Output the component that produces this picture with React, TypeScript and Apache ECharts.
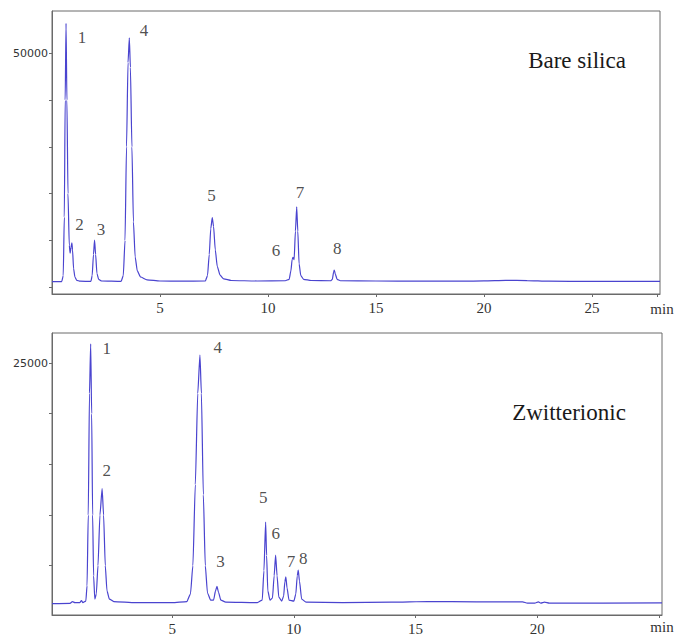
import React, { useEffect, useRef } from "react";
import * as echarts from "echarts";

// ---- Data (time in min, detector response) ----
const TOP_TRACE: [number, number][] = [
  [0, 1200], [0.45, 1200], [0.52, 2500], [0.57, 15000], [0.61, 40000], [0.65, 56400],
  [0.69, 40000], [0.74, 20000], [0.8, 9000], [0.84, 7300], [0.88, 8500], [0.92, 9500],
  [0.95, 8000], [1.0, 4000], [1.06, 2200], [1.15, 1500], [1.3, 1300], [1.8, 1250],
  [1.86, 2500], [1.92, 7000], [1.97, 10100], [2.02, 7000], [2.08, 3000], [2.16, 1700],
  [2.3, 1350], [3.2, 1250], [3.3, 2500], [3.38, 10000], [3.45, 30000], [3.52, 48000],
  [3.58, 53300], [3.63, 47000], [3.7, 30000], [3.77, 14000], [3.85, 6500], [3.95, 3500],
  [4.1, 2200], [4.4, 1600], [5, 1350], [6, 1300], [7.1, 1350], [7.2, 2500], [7.28, 7000],
  [7.35, 12500], [7.42, 14900], [7.48, 13000], [7.56, 8000], [7.65, 4500], [7.78, 2600],
  [7.95, 1800], [8.3, 1450], [9.5, 1350], [10.8, 1400], [10.98, 1700], [11.06, 3500],
  [11.12, 6000], [11.16, 6400], [11.21, 5900], [11.27, 12000], [11.33, 17200],
  [11.38, 12000], [11.44, 5000], [11.52, 2500], [11.65, 1700], [12, 1450], [12.9, 1400],
  [12.98, 1700], [13.04, 3300], [13.07, 3700], [13.12, 2800], [13.2, 1700], [13.35, 1400],
  [15, 1350], [17, 1300], [19, 1300], [20, 1380], [21, 1480], [22, 1440], [23, 1300],
  [25, 1250], [28.15, 1250],
];

const BOTTOM_TRACE: [number, number][] = [
  [0.06, 1250], [0.8, 1280], [0.9, 1450], [1.0, 1350], [1.2, 1350], [1.27, 1550],
  [1.33, 1350], [1.45, 1500], [1.5, 3000], [1.55, 10000], [1.6, 22000], [1.65, 26900],
  [1.69, 20000], [1.73, 10000], [1.77, 4000], [1.82, 1700], [1.88, 2200], [1.95, 5000],
  [2.03, 10000], [2.12, 12600], [2.18, 10000], [2.25, 5000], [2.32, 2500], [2.42, 1700],
  [2.6, 1450], [3.5, 1350], [5.0, 1350], [5.6, 1450], [5.75, 2200], [5.85, 5000],
  [5.95, 13000], [6.05, 22000], [6.14, 25800], [6.2, 22000], [6.28, 12000], [6.36, 5000],
  [6.45, 2300], [6.58, 1600], [6.7, 1600], [6.78, 2500], [6.84, 2950], [6.9, 2400],
  [7.0, 1600], [7.2, 1400], [8.5, 1350], [8.7, 1600], [8.77, 4500], [8.84, 9300],
  [8.88, 6000], [8.93, 2500], [9.02, 1600], [9.12, 1800], [9.19, 4000], [9.25, 6050],
  [9.31, 4000], [9.38, 1900], [9.5, 1500], [9.58, 2000], [9.63, 3400], [9.67, 3900],
  [9.72, 2800], [9.8, 1600], [10.0, 1500], [10.08, 2200], [10.14, 4000], [10.18, 4550],
  [10.23, 3500], [10.32, 1700], [10.5, 1400], [12, 1350], [14, 1400], [15.5, 1460],
  [17.5, 1430], [19.4, 1430], [19.6, 1300], [19.9, 1300], [20.05, 1420], [20.15, 1300],
  [20.3, 1400], [20.5, 1300], [25.13, 1320],
];

// Peak number annotations (placed in data coordinates)
const TOP_PEAK_NAMES = ["1", "2", "3", "4", "5", "6", "7", "8"];
const TOP_PEAK_T = [1.39, 1.27, 2.27, 4.26, 7.39, 10.37, 11.48, 13.21];
const TOP_PEAK_V = [53480, 13460, 12390, 54830, 19720, 7760, 20210, 8330];

const BOTTOM_PEAK_NAMES = ["1", "2", "4", "3", "5", "6", "7", "8"];
const BOTTOM_PEAK_T = [2.31, 2.31, 6.87, 6.99, 8.74, 9.26, 9.88, 10.39];
const BOTTOM_PEAK_V = [26400, 14440, 26570, 5450, 11700, 8170, 5450, 5720];

const TOP_X_TICKS = [5, 10, 15, 20, 25, 28];
const TOP_X_LABELS = [5, 10, 15, 20, 25];
const TOP_Y_TICKS = [0, 10000, 20000, 30000, 40000, 50000];
const TOP_Y_LABELS = [50000];

const BOTTOM_X_TICKS = [5, 10, 15, 20, 25];
const BOTTOM_X_LABELS = [5, 10, 15, 20];
const BOTTOM_Y_TICKS = [5000, 10000, 15000, 20000, 25000];
const BOTTOM_Y_LABELS = [25000];

const PANEL_TITLES = ["Bare silica", "Zwitterionic"];
const X_UNIT = "min";

const SERIF = "'Liberation Serif', 'Times New Roman', 'DejaVu Serif', serif";
const SANS = "'DejaVu Sans', sans-serif";
const LINE_COLOR = "#4a44cf";
const AXIS_COLOR = "#6a6a6a";

function xAxisDef(gridIndex: number, min: number, max: number, ticks: number[], labels: number[]) {
  return {
    type: "value",
    gridIndex,
    min,
    max,
    axisLine: { show: true, onZero: false, lineStyle: { color: AXIS_COLOR, width: 1 } },
    axisTick: { show: true, length: 3, lineStyle: { color: AXIS_COLOR }, customValues: ticks },
    axisLabel: {
      show: true,
      customValues: labels,
      formatter: (v: number) => String(v),
      margin: 6,
      fontFamily: SERIF,
      fontSize: 15,
      color: "#333",
    },
    splitLine: { show: false },
  };
}

function yAxisDef(gridIndex: number, min: number, max: number, ticks: number[], labels: number[]) {
  return {
    type: "value",
    gridIndex,
    min,
    max,
    axisLine: { show: true, onZero: false, lineStyle: { color: AXIS_COLOR, width: 1 } },
    axisTick: { show: true, length: 3, lineStyle: { color: AXIS_COLOR }, customValues: ticks },
    axisLabel: {
      show: true,
      customValues: labels,
      formatter: (v: number) => String(v),
      margin: 4,
      fontFamily: SANS,
      fontSize: 11,
      color: "#333",
    },
    splitLine: { show: false },
  };
}

function labelSeries(idx: number, names: string[], ts: number[], vs: number[]) {
  return {
    type: "scatter",
    xAxisIndex: idx,
    yAxisIndex: idx,
    symbolSize: 0,
    silent: true,
    data: names.map((n, i) => ({ name: n, value: [ts[i], vs[i]] })),
    label: {
      show: true,
      position: "inside",
      formatter: "{b}",
      fontFamily: SERIF,
      fontSize: 17,
      color: "#222",
    },
  };
}

function textEl(text: string, x: number, y: number, size: number, fill: string) {
  return {
    type: "text",
    x,
    y,
    style: {
      text,
      fontFamily: SERIF,
      fontSize: size,
      fill,
      align: "center",
      verticalAlign: "middle",
    },
  };
}

export default function App() {
  const ref = useRef<HTMLDivElement>(null);

  useEffect(() => {
    document.body.style.margin = "0";
    if (!ref.current) return;
    const chart = echarts.init(ref.current, undefined, { renderer: "svg" });
    chart.setOption({
      animation: false,
      backgroundColor: "#ffffff",
      textStyle: { fontFamily: SERIF },
      grid: [
        { left: 52, top: 11, width: 608, height: 283, show: true, borderColor: AXIS_COLOR, borderWidth: 1, backgroundColor: "#fff" },
        { left: 52, top: 333, width: 610, height: 284, show: true, borderColor: AXIS_COLOR, borderWidth: 1, backgroundColor: "#fff" },
      ],
      xAxis: [
        xAxisDef(0, 0, 28.15, TOP_X_TICKS, TOP_X_LABELS),
        xAxisDef(1, 0.06, 25.13, BOTTOM_X_TICKS, BOTTOM_X_LABELS),
      ],
      yAxis: [
        yAxisDef(0, -1430, 59040, TOP_Y_TICKS, TOP_Y_LABELS),
        yAxisDef(1, 127, 27970, BOTTOM_Y_TICKS, BOTTOM_Y_LABELS),
      ],
      series: [
        {
          type: "line",
          xAxisIndex: 0,
          yAxisIndex: 0,
          data: TOP_TRACE,
          showSymbol: false,
          smooth: 0.2,
          smoothMonotone: "x",
          lineStyle: { color: LINE_COLOR, width: 1.2 },
          silent: true,
        },
        {
          type: "line",
          xAxisIndex: 1,
          yAxisIndex: 1,
          data: BOTTOM_TRACE,
          showSymbol: false,
          smooth: 0.2,
          smoothMonotone: "x",
          lineStyle: { color: LINE_COLOR, width: 1.2 },
          silent: true,
        },
        labelSeries(0, TOP_PEAK_NAMES, TOP_PEAK_T, TOP_PEAK_V),
        labelSeries(1, BOTTOM_PEAK_NAMES, BOTTOM_PEAK_T, BOTTOM_PEAK_V),
      ],
      graphic: [
        textEl(PANEL_TITLES[0], 577, 60, 23, "#1a1a1a"),
        textEl(PANEL_TITLES[1], 569, 412, 23, "#1a1a1a"),
        textEl(X_UNIT, 662, 309, 15, "#333"),
        textEl(X_UNIT, 662, 627, 15, "#333"),
      ],
    });
    return () => chart.dispose();
  }, []);

  return <div ref={ref} style={{ width: 676, height: 636 }} />;
}
